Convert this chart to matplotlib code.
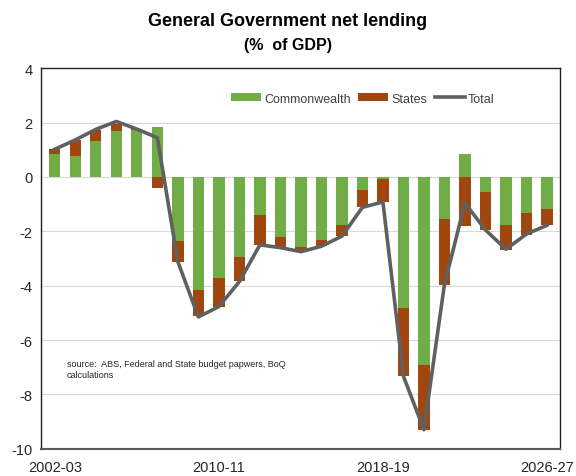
import numpy as np
import matplotlib.pyplot as plt

plt.rcParams['font.family'] = ['Liberation Sans Narrow', 'Liberation Sans', 'DejaVu Sans']
plt.rcParams['axes.unicode_minus'] = False

years = ["2002-03", "2003-04", "2004-05", "2005-06", "2006-07", "2007-08", "2008-09",
         "2009-10", "2010-11", "2011-12", "2012-13", "2013-14", "2014-15", "2015-16",
         "2016-17", "2017-18", "2018-19", "2019-20", "2020-21", "2021-22", "2022-23",
         "2023-24", "2024-25", "2025-26", "2026-27"]
commonwealth = [0.83, 0.77, 1.32, 1.69, 1.72, 1.85, -2.35, -4.15, -3.72, -2.96, -1.40, -2.20,
                -2.59, -2.32, -1.77, -0.47, -0.07, -4.82, -6.93, -1.55, 0.83, -0.57, -1.77,
                -1.33, -1.17]
states = [0.21, 0.58, 0.41, 0.27, 0.03, -0.41, -0.77, -0.95, -1.07, -0.87, -1.11, -0.37,
          -0.13, -0.22, -0.40, -0.62, -0.87, -2.51, -2.36, -2.41, -1.80, -1.38, -0.92,
          -0.81, -0.60]
total = [1.02, 1.36, 1.75, 2.04, 1.76, 1.44, -3.12, -5.15, -4.77, -3.85, -2.50, -2.60,
         -2.75, -2.55, -2.18, -1.12, -0.92, -7.33, -9.30, -3.96, -0.96, -1.95, -2.66,
         -2.10, -1.78]

green = "#70AD47"
brown = "#A0460E"
grey = "#606060"

x = np.arange(len(years))
cw = np.array(commonwealth)
st = np.array(states)
# states stack on commonwealth only when both share the same sign
st_bottom = np.where(np.sign(cw) == np.sign(st), cw, 0)

fig = plt.figure(figsize=(5.76, 4.77), dpi=100)
ax = fig.add_axes([0.071, 0.057, 0.901, 0.798])

b1 = ax.bar(x, cw, width=0.55, color=green, label="Commonwealth", zorder=2)
b2 = ax.bar(x, st, width=0.55, bottom=st_bottom, color=brown, label="States", zorder=2)
l1, = ax.plot(x, total, color=grey, lw=2.6, label="Total", zorder=3)

ax.set_ylim(-10, 4)
ax.set_xlim(-0.68, 24.63)
ax.set_yticks(np.arange(-10, 5, 2))
ax.set_xticks([0, 8, 16, 24])
ax.set_xticklabels([years[i] for i in [0, 8, 16, 24]])
ax.tick_params(length=0, labelsize=10.5, colors="#262626", pad=6)
ax.tick_params(axis='x', pad=8)
ax.grid(axis='y', color="#D9D9D9", lw=0.8, zorder=0)
for s in ax.spines.values():
    s.set_color("#222222")
    s.set_linewidth(1.0)
ax.spines['bottom'].set_color("#595959")
ax.spines['bottom'].set_linewidth(1.5)

ax.legend(handles=[b1, b2, l1], loc='center', bbox_to_anchor=(0.62, 0.92), ncol=3,
          frameon=False, fontsize=9, handlelength=2.4, handleheight=0.6,
          columnspacing=0.6, handletextpad=0.25, labelcolor="#404040")

ax.text(0.05, 0.235, "source:  ABS, Federal and State budget papwers, BoQ\ncalculations",
        transform=ax.transAxes, fontsize=6.5, color="#262626", va='top', linespacing=1.3)

fig.text(0.5, 0.955, "General Government net lending", ha='center', va='center',
         fontsize=13, fontweight='bold')
fig.text(0.5, 0.905, "(%  of GDP)", ha='center', va='center', fontsize=11.5, fontweight='bold')

fig.savefig("out.png", dpi=100)
